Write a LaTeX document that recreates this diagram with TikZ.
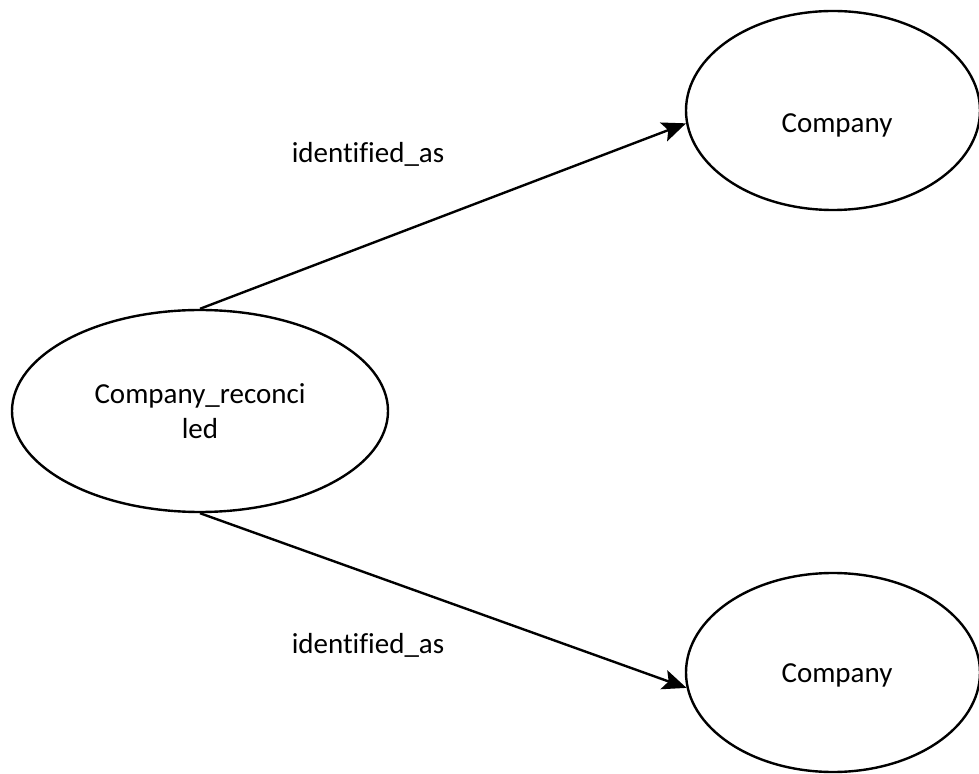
\documentclass[tikz,border=0pt]{standalone}
\usepackage{fontspec}
\setmainfont[Ligatures=NoCommon]{Carlito}
\usetikzlibrary{arrows.meta,shapes.geometric}

\tikzset{
  entity/.style={draw, ellipse, line width=1.2pt, inner sep=0pt},
  rel/.style={line width=1.2pt, -{Stealth[length=12pt, width=10pt, inset=2.5pt]}},
  txt/.style={font=\fontsize{14.5}{17.5}\selectfont, inner sep=0pt}
}

\begin{document}
\begin{tikzpicture}[x=0.5pt, y=-0.5pt]
  \useasboundingbox (0,0) rectangle (979,774);

  % reconciled record on the left
  \node[entity, txt, align=center, minimum width=188pt, minimum height=101pt]
    (rec) at (200,411) {Company\_reconci\\led};

  % the two companies it is identified as
  \node[entity, minimum width=147pt, minimum height=99.5pt] (top) at (833,110.5) {};
  \node[txt, anchor=base] (toptext) at (837,133) {Company};

  \node[entity, minimum width=147pt, minimum height=99.5pt] (bot) at (833,672.5) {};
  \node[txt, anchor=base] (bottext) at (837,682) {Company};

  % relations
  \draw[rel] (rec.north) -- (top.185);
  \draw[rel] (rec.south) -- (bot.186);

  \node[txt, anchor=base] (toplab) at (368,163) {identified\_as};
  \node[txt, anchor=base] (botlab) at (368,653) {identified\_as};
\end{tikzpicture}
\end{document}
